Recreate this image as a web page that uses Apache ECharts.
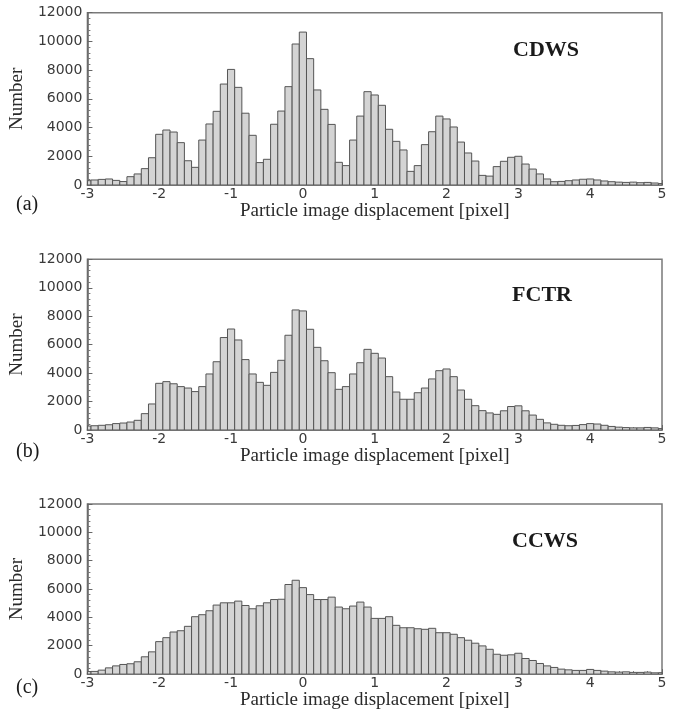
<!DOCTYPE html>
<html><head><meta charset="utf-8">
<script src="https://cdn.jsdelivr.net/npm/echarts@6/dist/echarts.min.js"></script>
<style>html,body{margin:0;padding:0;background:#fff}#c{width:675px;height:711px}</style>
</head><body><div id="c"></div>
<script>
// Bin centres (pixel displacement), bin width 0.1
const binCenters = [-3.0,-2.9,-2.8,-2.7,-2.6,-2.5,-2.4,-2.3,-2.2,-2.1,
  -2.0,-1.9,-1.8,-1.7,-1.6,-1.5,-1.4,-1.3,-1.2,-1.1,
  -1.0,-0.9,-0.8,-0.7,-0.6,-0.5,-0.4,-0.3,-0.2,-0.1,
  0.0,0.1,0.2,0.3,0.4,0.5,0.6,0.7,0.8,0.9,
  1.0,1.1,1.2,1.3,1.4,1.5,1.6,1.7,1.8,1.9,
  2.0,2.1,2.2,2.3,2.4,2.5,2.6,2.7,2.8,2.9,
  3.0,3.1,3.2,3.3,3.4,3.5,3.6,3.7,3.8,3.9,
  4.0,4.1,4.2,4.3,4.4,4.5,4.6,4.7,4.8,4.9,5.0];

const cdws = [300,350,390,420,320,240,580,770,1140,1900,
  3530,3830,3690,2950,1690,1230,3130,4250,5130,7030,
  8050,6800,5000,3460,1560,1790,4230,5150,6850,9820,
  10650,8800,6620,5270,4220,1580,1350,3130,4800,6500,
  6270,5550,3880,3040,2440,950,1350,2810,3710,4800,
  4600,4040,2990,2230,1670,670,620,1280,1650,1930,
  2000,1460,1110,770,420,230,250,300,350,400,
  420,350,280,230,200,180,200,160,180,140,100];

const fctr = [280,300,330,370,450,490,560,680,1150,1830,
  3280,3400,3250,3050,2950,2700,3050,3940,4800,6500,
  7100,6330,4950,3940,3350,3140,4050,4900,6660,8440,
  8370,7080,5810,4870,4030,2860,3050,3940,4730,5670,
  5390,5060,3750,2670,2160,2160,2620,2950,3590,4170,
  4290,3750,2810,2160,1710,1360,1200,1100,1350,1650,
  1700,1350,1050,750,500,400,330,300,320,380,
  450,420,330,250,200,170,150,150,180,150,100];

const ccws = [180,190,280,440,580,680,730,870,1220,1570,
  2290,2570,2970,3060,3370,4050,4190,4470,4870,5030,
  5030,5150,4840,4610,4820,5030,5260,5280,6320,6620,
  6100,5610,5260,5260,5430,4730,4610,4800,5080,4730,
  3930,3930,4050,3440,3270,3270,3200,3160,3230,2920,
  2920,2810,2570,2390,2180,1990,1750,1400,1330,1360,
  1470,1100,960,750,580,470,350,300,260,260,
  330,260,210,160,140,160,120,120,140,90,100];

const xTickLabels = [-3,-2,-1,0,1,2,3,4,5];
const yTickLabels = [0,2000,4000,6000,8000,10000,12000];
const panelNames = ['CDWS','FCTR','CCWS'];
const panelTags = ['(a)','(b)','(c)'];
const xTitle = 'Particle image displacement [pixel]';
const yTitle = 'Number';

const seriesData = [cdws, fctr, ccws];
const binHalf = 0.05;

const grids = [
  {left: 86, width: 576, top: 12.7, height: 172.3},
  {left: 86, width: 576, top: 259.3, height: 170.7},
  {left: 86, width: 576, top: 504, height: 171}
];
const titlePos = [[546, 50], [542, 295], [545, 541]];
const tagPos = [[16, 205], [16, 452], [16, 688]];

function renderItem(params, api) {
  const x = api.value(0), y = api.value(1);
  const p0 = api.coord([x - binHalf, y]);
  const p1 = api.coord([x + binHalf, 0]);
  const cs = params.coordSys;
  const shape = echarts.graphic.clipRectByRect(
    {x: p0[0], y: p0[1], width: p1[0] - p0[0], height: p1[1] - p0[1]},
    {x: cs.x, y: cs.y, width: cs.width, height: cs.height});
  if (!shape) return null;
  return {type: 'rect', shape: shape,
    style: {fill: '#d4d4d4', stroke: '#555555', lineWidth: 1}};
}

const labelFont = {fontFamily: 'DejaVu Sans', fontSize: 14, color: '#3a3a3a'};

const option = {
  animation: false,
  backgroundColor: '#ffffff',
  grid: grids.map(g => Object.assign({show: true, borderColor: '#7a7a7a', borderWidth: 1.5, backgroundColor: 'transparent'}, g)),
  xAxis: grids.map((g, i) => ({
    type: 'value', gridIndex: i, min: xTickLabels[0], max: xTickLabels[xTickLabels.length - 1], interval: 1,
    name: xTitle, nameLocation: 'middle', nameGap: i === 2 ? 16 : 13,
    nameTextStyle: {fontFamily: 'Liberation Serif', fontSize: 19, color: '#2a2a2a'},
    axisLine: {show: true, onZero: false, lineStyle: {color: '#666', width: 1.5}},
    axisTick: {show: true, inside: true, length: 5, lineStyle: {color: '#666'}},
    minorTick: {show: true, splitNumber: 5, length: 3, lineStyle: {color: '#777'}},
    splitLine: {show: false},
    axisLabel: Object.assign({margin: 2, showMinLabel: true, showMaxLabel: true, formatter: v => String(v)}, labelFont)
  })),
  yAxis: grids.map((g, i) => ({
    type: 'value', gridIndex: i, min: yTickLabels[0], max: yTickLabels[yTickLabels.length - 1], interval: 2000,
    name: yTitle, nameLocation: 'middle', nameGap: 54, nameRotate: 90,
    nameTextStyle: {fontFamily: 'Liberation Serif', fontSize: 19, color: '#2a2a2a'},
    axisLine: {show: true, onZero: false, lineStyle: {color: '#666', width: 1.5}},
    axisTick: {show: true, inside: true, length: 5, lineStyle: {color: '#666'}},
    minorTick: {show: true, splitNumber: 5, length: 3, lineStyle: {color: '#777'}},
    splitLine: {show: false},
    axisLabel: Object.assign({margin: 5, formatter: v => String(v)}, labelFont)
  })),
  series: seriesData.map((arr, i) => ({
    type: 'custom', xAxisIndex: i, yAxisIndex: i, clip: true,
    renderItem: renderItem,
    encode: {x: 0, y: 1},
    data: binCenters.map((c, k) => [c, arr[k]])
  })),
  graphic: [].concat(
    panelNames.map((t, i) => ({type: 'text', position: titlePos[i],
      style: {text: t, fill: '#1a1a1a', font: 'bold 22px "Liberation Serif"', align: 'center', verticalAlign: 'middle'}})),
    panelTags.map((t, i) => ({type: 'text', position: tagPos[i],
      style: {text: t, fill: '#1a1a1a', font: '20px "Liberation Serif"', align: 'left', verticalAlign: 'middle'}}))
  )
};

const chart = echarts.init(document.getElementById('c'), null, {renderer: 'canvas'});
chart.setOption(option);
</script></body></html>
